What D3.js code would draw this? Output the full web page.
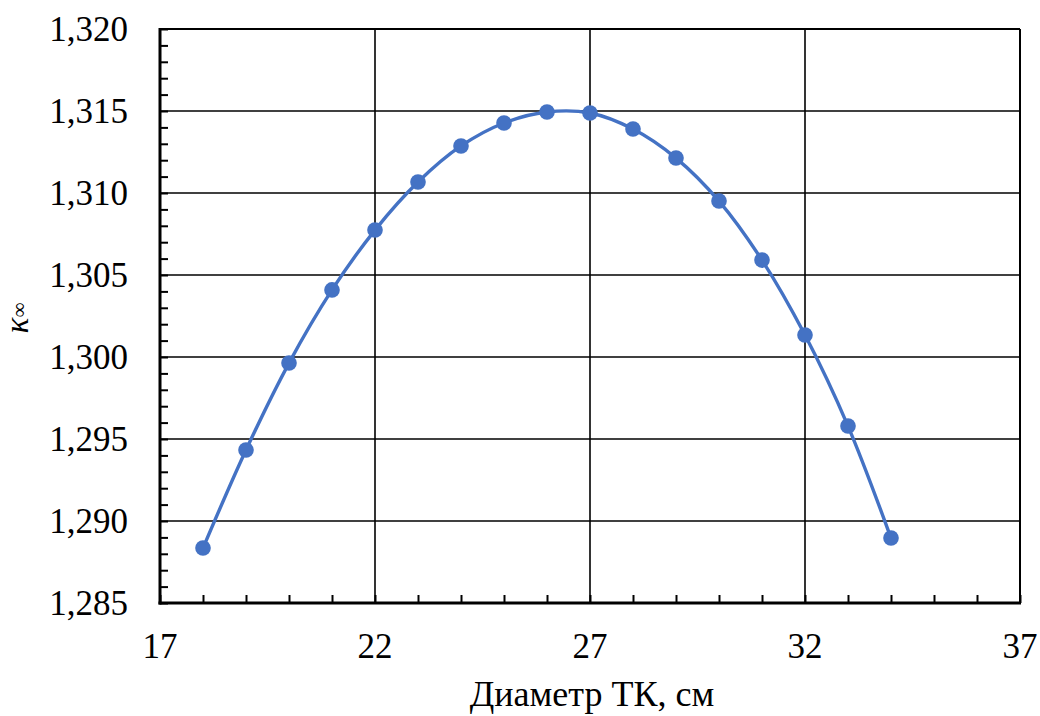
<!DOCTYPE html>
<html>
<head>
<meta charset="utf-8">
<script src="https://cdn.jsdelivr.net/npm/d3@7/dist/d3.min.js"></script>
<style>
  html, body { margin: 0; padding: 0; background: #fff; }
  #chart, #chart text, #chart tspan { font-family: "Liberation Serif", Tinos, "Times New Roman", serif !important; }
</style>
</head>
<body>
<svg id="chart" width="1040" height="716" font-family="Liberation Serif"></svg>
<script>
// Tube diameter (cm) and multiplication factor k∞
const diameters = [18, 19, 20, 21, 22, 23, 24, 25, 26, 27, 28, 29, 30, 31, 32, 33, 34];
const kInf = [1.28835, 1.29433, 1.29963, 1.30409, 1.30774, 1.31067, 1.31287, 1.31427,
              1.31494, 1.31488, 1.31390, 1.31213, 1.30951, 1.30591, 1.30134, 1.29579, 1.28896];
const xTicks = [17, 22, 27, 32, 37];
const yTicks = [1.285, 1.290, 1.295, 1.300, 1.305, 1.310, 1.315, 1.320];
const xTitle = "Диаметр ТК, см";

const svg = d3.select("#chart");
const m = { left: 160, right: 1020, top: 29, bottom: 603 };

const x = d3.scaleLinear().domain([17, 37]).range([m.left, m.right]);
const y = d3.scaleLinear().domain([1.285, 1.320]).range([m.bottom, m.top]);

const fmt = v => d3.format(".3f")(v).replace(".", ",");

// Major grid
svg.append("g").selectAll("line").data(yTicks).join("line")
  .attr("x1", m.left).attr("x2", m.right)
  .attr("y1", d => y(d)).attr("y2", d => y(d))
  .attr("stroke", "#000").attr("stroke-width", 1.6);
svg.append("g").selectAll("line").data(xTicks).join("line")
  .attr("y1", m.top).attr("y2", m.bottom)
  .attr("x1", d => x(d)).attr("x2", d => x(d))
  .attr("stroke", "#000").attr("stroke-width", 1.6);

// Frame top / right
svg.append("line").attr("x1", m.left).attr("x2", m.right).attr("y1", m.top).attr("y2", m.top)
  .attr("stroke", "#000").attr("stroke-width", 2);
svg.append("line").attr("x1", m.right).attr("x2", m.right).attr("y1", m.top).attr("y2", m.bottom)
  .attr("stroke", "#000").attr("stroke-width", 2);

// Axes with inward minor ticks
const yMinor = d3.range(1285, 1321).map(v => v / 1000);
const xMinor = d3.range(17, 38);

const yAxis = svg.append("g").attr("transform", `translate(${m.left},0)`)
  .call(d3.axisRight(y).tickValues(yMinor).tickSize(8).tickFormat(""));
yAxis.select(".domain").remove();
yAxis.selectAll(".tick line").attr("stroke", "#000").attr("stroke-width", 2);

const xAxis = svg.append("g").attr("transform", `translate(0,${m.bottom})`)
  .call(d3.axisTop(x).tickValues(xMinor).tickSize(8).tickFormat(""));
xAxis.select(".domain").remove();
xAxis.selectAll(".tick line").attr("stroke", "#000").attr("stroke-width", 2);

svg.append("line").attr("x1", m.left).attr("x2", m.left).attr("y1", m.top - 1).attr("y2", m.bottom + 1.5)
  .attr("stroke", "#000").attr("stroke-width", 3);
svg.append("line").attr("x1", m.left - 1.5).attr("x2", m.right + 1).attr("y1", m.bottom).attr("y2", m.bottom)
  .attr("stroke", "#000").attr("stroke-width", 3);

// Tick labels
svg.append("g").selectAll("text").data(yTicks).join("text")
  .attr("x", 128).attr("y", d => y(d))
  .attr("dy", "0.34em")
  .attr("text-anchor", "end")
  .attr("font-size", 35).attr("fill", "#000")
  .text(fmt);
svg.append("g").selectAll("text").data(xTicks).join("text")
  .attr("x", d => x(d)).attr("y", 658)
  .attr("text-anchor", "middle")
  .attr("font-size", 35).attr("fill", "#000")
  .text(d => d);

// Axis titles
svg.append("text").attr("x", 592).attr("y", 706)
  .attr("text-anchor", "middle")
  .attr("font-size", 36).attr("fill", "#000")
  .text(xTitle);

const yt = svg.append("text")
  .attr("transform", "translate(28,318) rotate(-90)")
  .attr("text-anchor", "middle")
  .attr("fill", "#000");
yt.append("tspan").attr("font-style", "italic").attr("font-size", 33).text("κ");
yt.append("tspan").attr("dy", -2).attr("font-size", 21).text("∞");

// Series
const pts = diameters.map((d, i) => [d, kInf[i]]);
const line = d3.line().x(d => x(d[0])).y(d => y(d[1])).curve(d3.curveCatmullRom.alpha(0.5));
svg.append("path").datum(pts).attr("d", line)
  .attr("fill", "none").attr("stroke", "#4472C4").attr("stroke-width", 3.4);
svg.append("g").selectAll("circle").data(pts).join("circle")
  .attr("cx", d => x(d[0])).attr("cy", d => y(d[1])).attr("r", 7.8)
  .attr("fill", "#4472C4");
</script>
</body>
</html>
